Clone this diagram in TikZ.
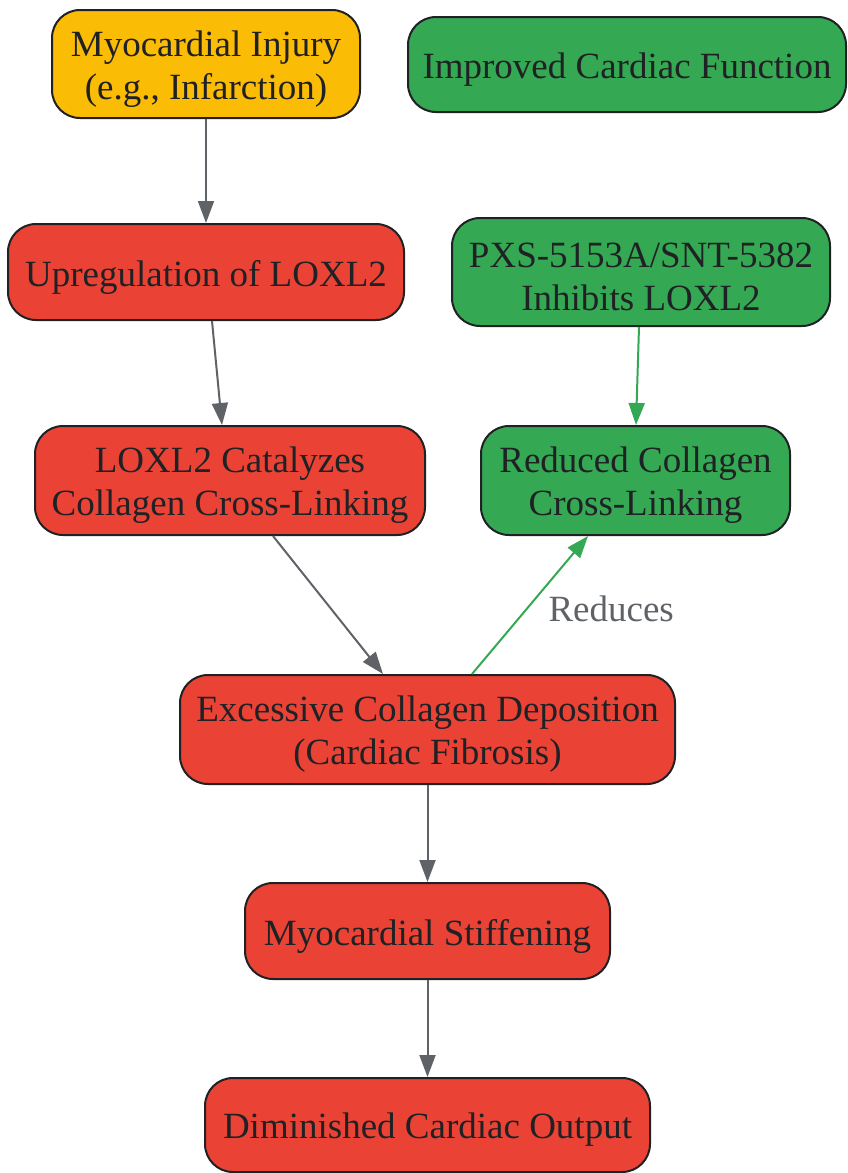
\documentclass[tikz,border=0pt]{standalone}
\usepackage{fontspec}
\setmainfont{Liberation Serif}
\usetikzlibrary{arrows.meta}
\definecolor{gyellow}{HTML}{FBBC05}
\definecolor{gred}{HTML}{EA4335}
\definecolor{ggreen}{HTML}{34A853}
\definecolor{ggray}{HTML}{5F6368}
\definecolor{gtext}{HTML}{202124}
\begin{document}
\begin{tikzpicture}[x=1pt,y=-1pt,
  box/.style={draw=gtext, line width=2pt, rounded corners=28pt, inner sep=0pt},
  txt/.style={align=center, text=gtext, font=\fontsize{37}{43}\selectfont, inner sep=0pt, yshift=-5pt},
  arr/.style={draw=ggray, line width=2pt, -{Triangle[length=22pt,width=16pt]}},
  garr/.style={draw=ggreen, line width=2pt, -{Triangle[length=22pt,width=16pt]}}]
\useasboundingbox (0,0) rectangle (847,1173);
\node[box, fill=gyellow, minimum width=308pt, minimum height=108pt, label={[txt]center:{Myocardial Injury\\(e.g., Infarction)}}] (n1) at (206,64) {};
\node[box, fill=ggreen, minimum width=438pt, minimum height=95pt, label={[txt]center:{Improved Cardiac Function}}] (n2) at (627,64.5) {};
\node[box, fill=gred, minimum width=396pt, minimum height=96pt, label={[txt]center:{Upregulation of LOXL2}}] (n3) at (206,272) {};
\node[box, fill=ggreen, minimum width=378pt, minimum height=108pt, label={[txt]center:{PXS-5153A/SNT-5382\\Inhibits LOXL2}}] (n4) at (641,272) {};
\node[box, fill=gred, minimum width=390pt, minimum height=109pt, label={[txt]center:{LOXL2 Catalyzes\\Collagen Cross-Linking}}] (n5) at (230,480.5) {};
\node[box, fill=ggreen, minimum width=309pt, minimum height=109pt, label={[txt]center:{Reduced Collagen\\Cross-Linking}}] (n6) at (635.5,480.5) {};
\node[box, fill=gred, minimum width=495pt, minimum height=109pt, label={[txt]center:{Excessive Collagen Deposition\\(Cardiac Fibrosis)}}] (n7) at (427.5,729.5) {};
\node[box, fill=gred, minimum width=365pt, minimum height=96pt, label={[txt]center:{Myocardial Stiffening}}] (n8) at (427.5,931) {};
\node[box, fill=gred, minimum width=445pt, minimum height=94pt, label={[txt]center:{Diminished Cardiac Output}}] (n9) at (427.5,1125) {};
\draw[arr] (n1.south) -- (n3.north);
\draw[arr] ([xshift=6pt]n3.south) -- ([xshift=-8pt]n5.north);
\draw[arr] ([xshift=43pt]n5.south) -- ([xshift=-44.5pt]n7.north);
\draw[garr] ([xshift=44.5pt]n7.north) -- ([xshift=-47.5pt]n6.south) node[pos=0.47, right=21pt, text=ggray, font=\fontsize{37}{43}\selectfont, inner sep=0pt] (lbl) {Reduces};
\draw[garr] ([xshift=-2pt]n4.south) -- ([xshift=0.5pt]n6.north);
\draw[arr] (n7.south) -- (n8.north);
\draw[arr] (n8.south) -- (n9.north);
\end{tikzpicture}
\end{document}
